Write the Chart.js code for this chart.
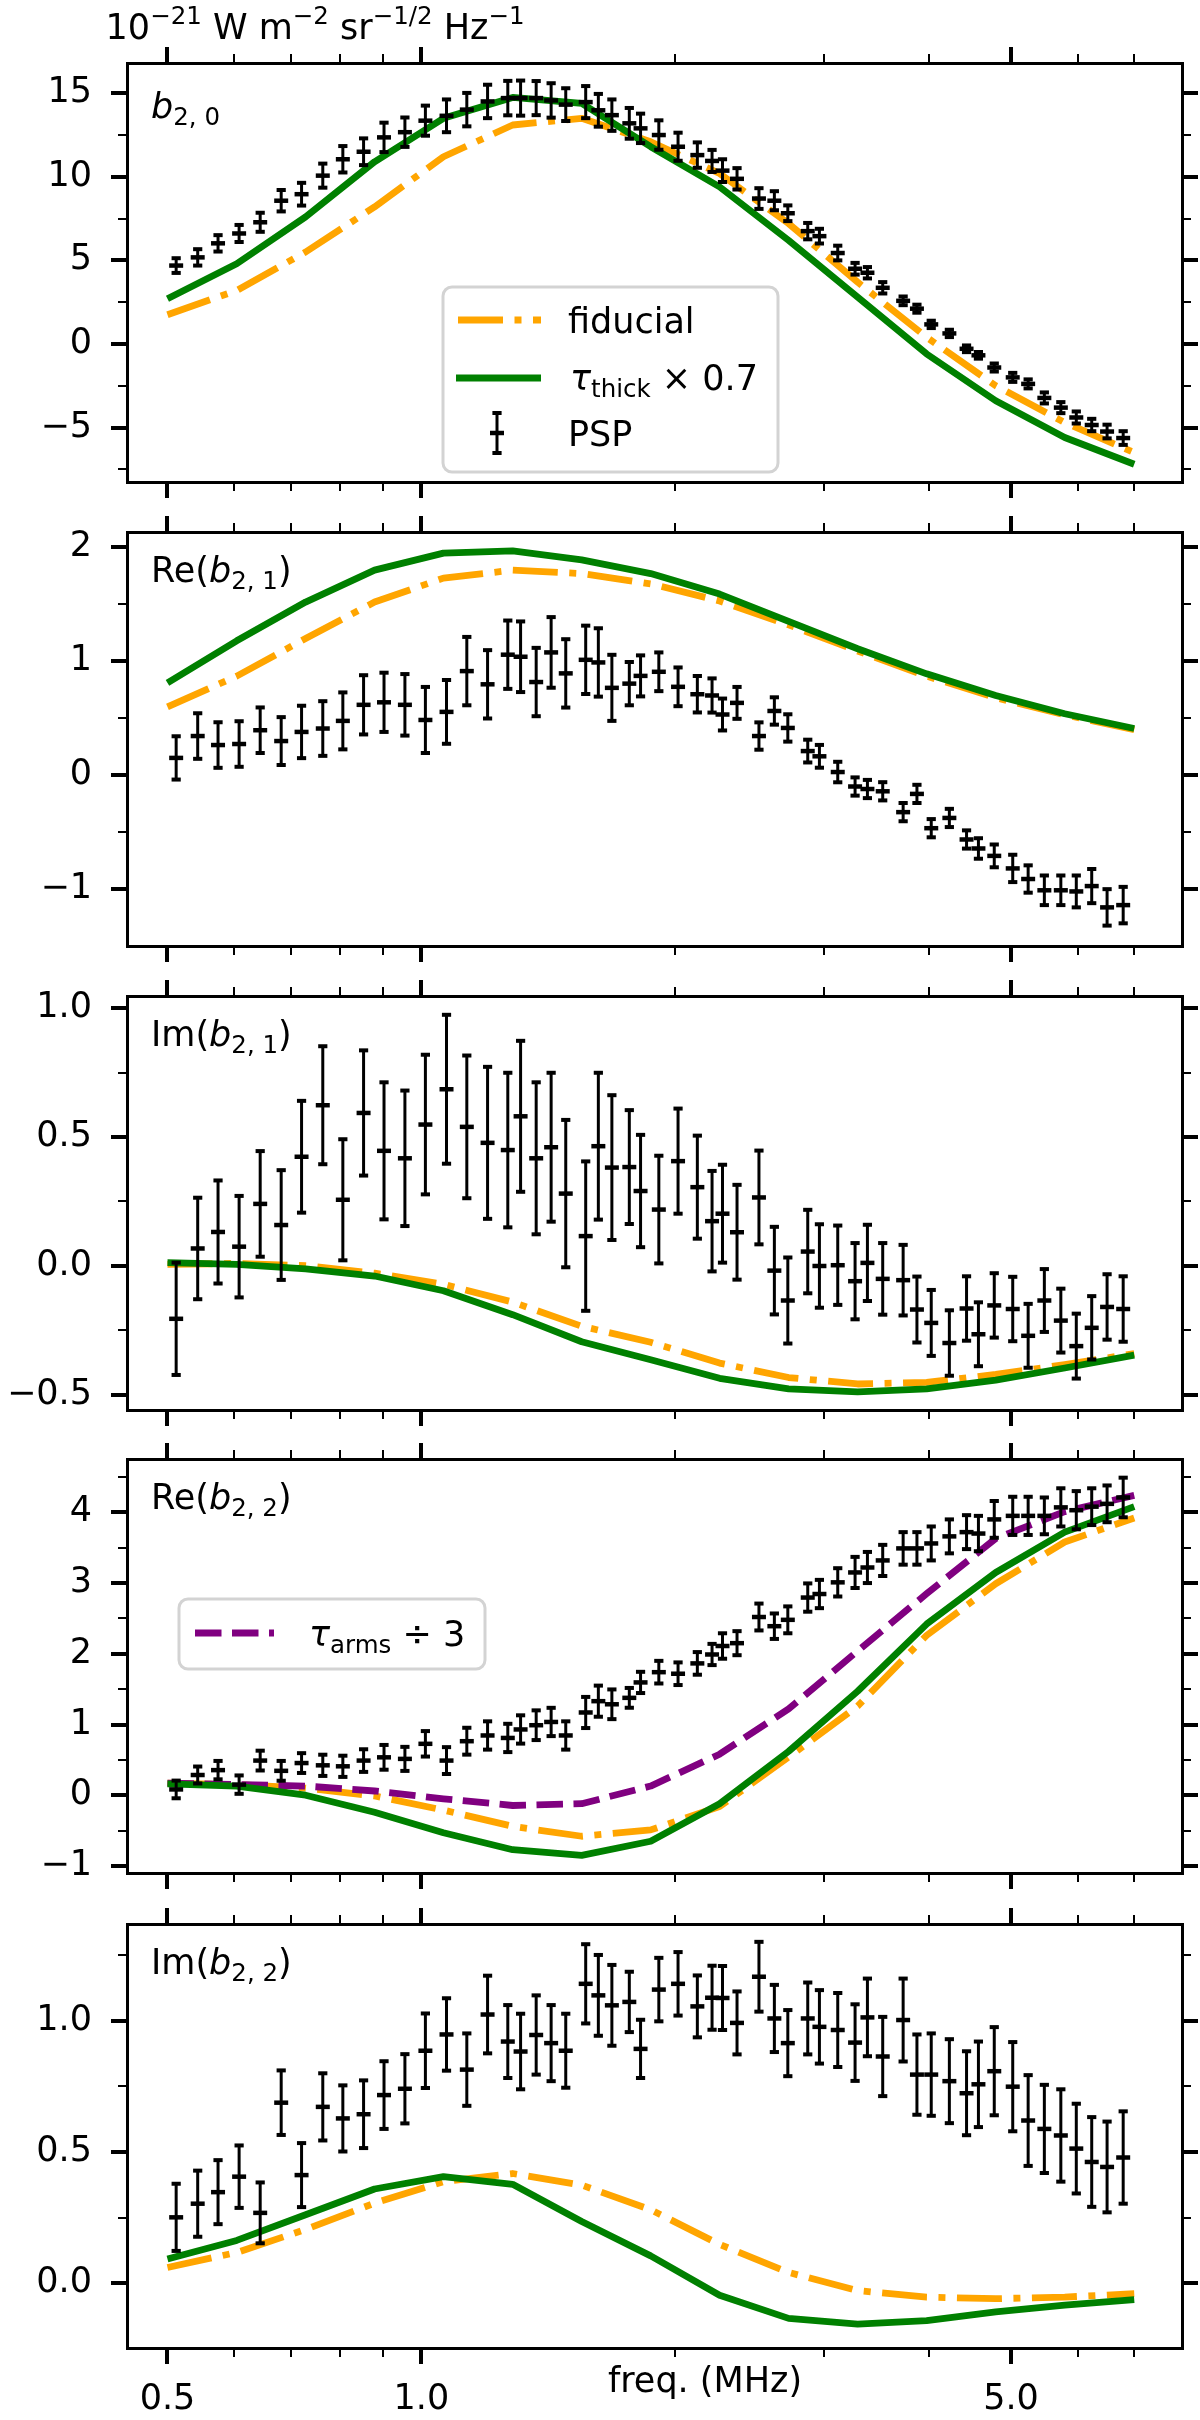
<!DOCTYPE html>
<html>
<head>
<meta charset="utf-8">
<title>b2m spectra vs PSP</title>
<script src="https://cdn.jsdelivr.net/npm/chart.js@4.4.1/dist/chart.umd.min.js"></script>
<style>
html, body { margin:0; padding:0; background:#ffffff; }
#wrap { position:relative; width:1200px; height:2420px; overflow:hidden; background:#ffffff; }
#wrap canvas { position:absolute; left:0; }
</style>
</head>
<body>
<div id="wrap"></div>
<script>
// ---------------- DATA ----------------
const xMajorTicks = [0.5, 1.0, 5.0];
const xTickLabels = ['0.5', '1.0', '5.0'];
const xMinorTicks = [0.6, 0.7, 0.8, 0.9, 2, 3, 4, 6, 7];

const freqPSP = [0.512, 0.543, 0.574, 0.608, 0.644, 0.682, 0.721, 0.764, 0.807, 0.854,
  0.903, 0.956, 1.011, 1.071, 1.132, 1.198, 1.266, 1.311, 1.368, 1.425,
  1.483, 1.566, 1.621, 1.682, 1.764, 1.819, 1.912, 2.015, 2.124, 2.211,
  2.275, 2.367, 2.513, 2.621, 2.719, 2.871, 2.964, 3.116, 3.267, 3.379,
  3.523, 3.725, 3.868, 4.022, 4.226, 4.429, 4.575, 4.777, 5.024, 5.240,
  5.477, 5.729, 5.976, 6.233, 6.500, 6.792];

const freqModel = [0.5, 0.604, 0.729, 0.880, 1.062, 1.283, 1.549, 1.870, 2.257, 2.725, 3.290, 3.972, 4.796, 5.790, 7.0];

// b_{2,0}
const pspB20 = [4.69, 5.18, 6.02, 6.61, 7.28, 8.57, 8.96, 10.07, 11.05, 11.5,
  12.36, 12.67, 13.36, 13.65, 14.02, 14.51, 14.71, 14.71, 14.71, 14.57,
  14.32, 14.47, 13.98, 13.69, 13.2, 12.9, 12.5, 11.8, 11.3, 10.95,
  10.37, 9.88, 8.7, 8.57, 7.82, 6.75, 6.45, 5.44, 4.5, 4.26,
  3.36, 2.58, 2.11, 1.17, 0.63, -0.29, -0.68, -1.41, -2.0, -2.39,
  -3.23, -3.81, -4.4, -4.85, -5.24, -5.63];
const errB20 = [0.44, 0.49, 0.49, 0.51, 0.57, 0.64, 0.68, 0.72, 0.79, 0.80,
  0.88, 0.88, 0.90, 0.98, 1.0, 1.0, 1.03, 1.05, 1.02, 1.03,
  0.98, 0.96, 0.98, 0.94, 0.92, 0.88, 0.88, 0.84, 0.76, 0.66,
  0.68, 0.64, 0.62, 0.57, 0.47, 0.49, 0.44, 0.44, 0.35, 0.34,
  0.34, 0.26, 0.24, 0.22, 0.22, 0.2, 0.2, 0.24, 0.27, 0.27,
  0.33, 0.33, 0.36, 0.37, 0.41, 0.41];
const fidB20 = [1.75, 3.2, 5.5, 8.2, 11.2, 13.1, 13.5, 12.1, 10.2, 7.2, 3.7, 0.4, -2.5, -4.7, -6.5];
const thickB20 = [2.7, 4.8, 7.6, 10.9, 13.5, 14.75, 14.4, 11.8, 9.4, 6.2, 2.8, -0.6, -3.4, -5.6, -7.2];

// Re(b_{2,1})
const pspReB21 = [0.152, 0.344, 0.265, 0.274, 0.395, 0.30, 0.38, 0.41, 0.477, 0.618,
  0.64, 0.618, 0.485, 0.556, 0.914, 0.798, 1.058, 1.04, 0.818, 1.078,
  0.894, 1.013, 0.99, 0.767, 0.804, 0.872, 0.908, 0.776, 0.711, 0.70,
  0.533, 0.635, 0.344, 0.564, 0.415, 0.212, 0.166, 0.028, -0.099, -0.121,
  -0.141, -0.324, -0.164, -0.465, -0.375, -0.564, -0.643, -0.708, -0.818, -0.911,
  -1.01, -1.01, -1.02, -0.973, -1.16, -1.14];
const errReB21 = [0.19, 0.2, 0.2, 0.2, 0.2, 0.21, 0.23, 0.24, 0.25, 0.26,
  0.26, 0.27, 0.29, 0.28, 0.3, 0.3, 0.3, 0.31, 0.3, 0.31,
  0.3, 0.3, 0.3, 0.29, 0.19, 0.18, 0.17, 0.17, 0.16, 0.15,
  0.14, 0.14, 0.12, 0.12, 0.12, 0.1, 0.1, 0.09, 0.08, 0.08,
  0.08, 0.08, 0.08, 0.08, 0.08, 0.08, 0.09, 0.1, 0.12, 0.12,
  0.13, 0.13, 0.14, 0.15, 0.16, 0.16];
const fidReB21 = [0.60, 0.87, 1.20, 1.52, 1.73, 1.80, 1.77, 1.68, 1.53, 1.32, 1.09, 0.87, 0.68, 0.53, 0.40];
const thickReB21 = [0.81, 1.18, 1.52, 1.80, 1.95, 1.97, 1.89, 1.77, 1.59, 1.35, 1.11, 0.89, 0.70, 0.54, 0.41];

// Im(b_{2,1})
const pspImB21 = [-0.206, 0.067, 0.131, 0.074, 0.24, 0.158, 0.423, 0.623, 0.256, 0.593,
  0.446, 0.417, 0.548, 0.685, 0.539, 0.477, 0.449, 0.58, 0.417, 0.46,
  0.28, 0.115, 0.464, 0.381, 0.383, 0.29, 0.218, 0.406, 0.305, 0.173,
  0.202, 0.13, 0.265, -0.019, -0.135, 0.055, -0.001, 0.002, -0.06, 0.011,
  -0.051, -0.056, -0.17, -0.222, -0.30, -0.166, -0.266, -0.154, -0.168, -0.272,
  -0.135, -0.213, -0.312, -0.241, -0.16, -0.168];
const errImB21 = [0.218, 0.197, 0.2, 0.197, 0.205, 0.213, 0.217, 0.229, 0.235, 0.243,
  0.266, 0.263, 0.271, 0.289, 0.277, 0.295, 0.3, 0.293, 0.295, 0.289,
  0.286, 0.29, 0.285, 0.281, 0.221, 0.218, 0.209, 0.204, 0.2, 0.195,
  0.19, 0.184, 0.182, 0.17, 0.167, 0.162, 0.162, 0.154, 0.148, 0.148,
  0.139, 0.137, 0.128, 0.128, 0.127, 0.125, 0.124, 0.125, 0.125, 0.124,
  0.122, 0.124, 0.126, 0.123, 0.127, 0.127];
const fidImB21 = [0.005, 0.009, 0.0, -0.029, -0.072, -0.141, -0.235, -0.297, -0.378, -0.434, -0.459, -0.453, -0.422, -0.384, -0.341];
const thickImB21 = [0.012, 0.005, -0.012, -0.04, -0.097, -0.19, -0.295, -0.365, -0.437, -0.478, -0.49, -0.478, -0.444, -0.397, -0.347];

// Re(b_{2,2})
const pspReB22 = [0.082, 0.286, 0.355, 0.15, 0.49, 0.345, 0.455, 0.423, 0.409, 0.49,
  0.536, 0.514, 0.727, 0.49, 0.764, 0.845, 0.81, 0.93, 0.99, 1.036,
  0.845, 1.17, 1.33, 1.286, 1.377, 1.595, 1.74, 1.718, 1.864, 1.99,
  2.11, 2.15, 2.52, 2.39, 2.48, 2.795, 2.845, 3.01, 3.15, 3.22,
  3.32, 3.49, 3.49, 3.56, 3.66, 3.72, 3.70, 3.9, 3.95, 3.95,
  3.95, 4.07, 4.03, 4.08, 4.12, 4.21];
const errReB22 = [0.125, 0.12, 0.13, 0.13, 0.14, 0.14, 0.14, 0.15, 0.15, 0.16,
  0.175, 0.17, 0.18, 0.19, 0.19, 0.2, 0.2, 0.2, 0.21, 0.2,
  0.2, 0.22, 0.22, 0.21, 0.14, 0.15, 0.16, 0.16, 0.16, 0.15,
  0.18, 0.17, 0.19, 0.18, 0.19, 0.2, 0.2, 0.2, 0.22, 0.22,
  0.22, 0.23, 0.23, 0.24, 0.24, 0.24, 0.25, 0.26, 0.27, 0.27,
  0.26, 0.27, 0.27, 0.26, 0.26, 0.28];
const fidReB22 = [0.17, 0.15, 0.10, -0.01, -0.21, -0.44, -0.58, -0.49, -0.16, 0.54, 1.26, 2.26, 2.99, 3.58, 3.92];
const thickReB22 = [0.16, 0.13, 0.0, -0.24, -0.53, -0.77, -0.85, -0.65, -0.12, 0.62, 1.47, 2.42, 3.15, 3.72, 4.08];
const armsReB22 = [0.17, 0.15, 0.13, 0.06, -0.05, -0.145, -0.12, 0.13, 0.58, 1.22, 2.04, 2.85, 3.63, 4.01, 4.24];

// Im(b_{2,2})
const pspImB22 = [0.251, 0.303, 0.347, 0.406, 0.268, 0.688, 0.412, 0.672, 0.628, 0.644,
  0.717, 0.741, 0.886, 0.948, 0.814, 1.024, 0.921, 0.883, 0.946, 0.915,
  0.886, 1.141, 1.097, 1.059, 1.072, 0.893, 1.119, 1.141, 1.055, 1.088,
  1.087, 0.992, 1.168, 1.009, 0.915, 1.009, 0.977, 0.965, 0.917, 1.013,
  0.864, 1.003, 0.795, 0.795, 0.770, 0.724, 0.758, 0.808, 0.749, 0.62,
  0.588, 0.563, 0.513, 0.462, 0.443, 0.479];
const errImB22 = [0.128, 0.126, 0.122, 0.119, 0.116, 0.123, 0.122, 0.128, 0.126, 0.129,
  0.129, 0.132, 0.142, 0.138, 0.138, 0.148, 0.139, 0.144, 0.151, 0.145,
  0.141, 0.151, 0.154, 0.154, 0.115, 0.111, 0.121, 0.121, 0.118, 0.122,
  0.122, 0.12, 0.133, 0.128, 0.126, 0.137, 0.14, 0.141, 0.146, 0.148,
  0.151, 0.158, 0.153, 0.157, 0.16, 0.16, 0.163, 0.168, 0.17, 0.173,
  0.168, 0.176, 0.171, 0.171, 0.173, 0.176];
const fidImB22 = [0.06, 0.117, 0.205, 0.305, 0.387, 0.418, 0.374, 0.28, 0.148, 0.041, -0.028, -0.053, -0.059, -0.053, -0.04];
const thickImB22 = [0.092, 0.163, 0.261, 0.359, 0.406, 0.377, 0.235, 0.104, -0.046, -0.134, -0.156, -0.143, -0.109, -0.084, -0.063];

// y-axis tick values and limits
const yMajorTicks = [[-5, 0, 5, 10, 15], [-1, 0, 1, 2], [-0.5, 0, 0.5, 1.0], [-1, 0, 1, 2, 3, 4], [0, 0.5, 1.0]];
const yMinorTicks = [[-7.5, -2.5, 2.5, 7.5, 12.5], [-0.5, 0.5, 1.5], [-0.25, 0.25, 0.75], [-0.5, 0.5, 1.5, 2.5, 3.5, 4.5], [0.25, 0.75, 1.25]];
const yLimits = [[-8.26, 16.81], [-1.499, 2.135], [-0.560, 1.047], [-1.0995, 4.754], [-0.247, 1.369]];
const xLimits = [0.4477, 7.975];

const seriesNames = ['fiducial', 'τthick × 0.7', 'PSP', 'τarms ÷ 3'];

// ---------------- LAYOUT / STYLE ----------------
const FONT = '"DejaVu Sans", "Liberation Sans", sans-serif';
const FS = 35;
const LW = 6.8;
const DASHDOT = [45, 11.5, 7, 11.5];
const DASHED = [26.5, 10.5];
const C_ORANGE = '#FFA500', C_GREEN = '#008000', C_PURPLE = '#800080';
const PANEL_H = 429;
const PLOT_LEFT = 127, PLOT_RIGHT = 1182;
const layout = [
  { top: 63, padTop: 63, padBottom: 30, dec: 0 },
  { top: 527, padTop: 35, padBottom: 30, dec: 0 },
  { top: 991, padTop: 35, padBottom: 30, dec: 1 },
  { top: 1454, padTop: 35, padBottom: 30, dec: 0 },
  { top: 1919, padTop: 35, padBottom: 72, dec: 1 }
];

const pspVals = [pspB20, pspReB21, pspImB21, pspReB22, pspImB22];
const pspErrs = [errB20, errReB21, errImB21, errReB22, errImB22];
const fidVals = [fidB20, fidReB21, fidImB21, fidReB22, fidImB22];
const thickVals = [thickB20, thickReB21, thickImB21, thickReB22, thickImB22];

const panelLabels = [
  [{ t: 'b', it: 1 }, { t: '2, 0', sub: 1 }],
  [{ t: 'Re(' }, { t: 'b', it: 1 }, { t: '2, 1', sub: 1 }, { t: ')' }],
  [{ t: 'Im(' }, { t: 'b', it: 1 }, { t: '2, 1', sub: 1 }, { t: ')' }],
  [{ t: 'Re(' }, { t: 'b', it: 1 }, { t: '2, 2', sub: 1 }, { t: ')' }],
  [{ t: 'Im(' }, { t: 'b', it: 1 }, { t: '2, 2', sub: 1 }, { t: ')' }]
];

Chart.defaults.font.family = FONT;
Chart.defaults.font.size = FS;
Chart.defaults.color = '#000';

// ---------------- HELPERS ----------------
function richText(ctx, x, y, parts, size) {
  let cx = x;
  ctx.textBaseline = 'alphabetic';
  ctx.textAlign = 'left';
  ctx.fillStyle = '#000';
  for (const p of parts) {
    let s = size, dy = 0;
    if (p.sub) { s = size * 0.7; dy = size * 0.21; }
    if (p.sup) { s = size * 0.7; dy = -size * 0.43; }
    ctx.font = (p.it ? 'italic ' : '') + s + 'px ' + FONT;
    ctx.fillText(p.t, cx, y + dy);
    cx += ctx.measureText(p.t).width;
  }
  return cx;
}

function strokeSeg(ctx, x1, y1, x2, y2, w) {
  ctx.lineWidth = w;
  ctx.beginPath(); ctx.moveTo(x1, y1); ctx.lineTo(x2, y2); ctx.stroke();
}

function errGlyph(ctx, px, yTop, yBot, yMid, marker) {
  ctx.strokeStyle = '#000';
  ctx.lineCap = 'butt';
  strokeSeg(ctx, px, yTop, px, yBot, 3);
  strokeSeg(ctx, px - 4.6, yTop, px + 4.6, yTop, 4);
  strokeSeg(ctx, px - 4.6, yBot, px + 4.6, yBot, 4);
  if (marker) strokeSeg(ctx, px - 7, yMid, px + 7, yMid, 4.5);
}

function roundBox(ctx, x, y, w, h, r) {
  ctx.beginPath();
  ctx.moveTo(x + r, y);
  ctx.lineTo(x + w - r, y); ctx.arcTo(x + w, y, x + w, y + r, r);
  ctx.lineTo(x + w, y + h - r); ctx.arcTo(x + w, y + h, x + w - r, y + h, r);
  ctx.lineTo(x + r, y + h); ctx.arcTo(x, y + h, x, y + h - r, r);
  ctx.lineTo(x, y + r); ctx.arcTo(x, y, x + r, y, r);
  ctx.closePath();
}

function handleLine(ctx, x1, x2, y, color, dash) {
  ctx.save();
  ctx.strokeStyle = color; ctx.setLineDash(dash || []); ctx.lineCap = 'butt';
  strokeSeg(ctx, x1, y, x2, y, LW);
  ctx.restore();
}

function fmtY(dec) {
  return v => (v < 0 ? '\u2212' : '') + Math.abs(v).toFixed(dec);
}

// size: fixed thickness of the axis box (0 = does not take space)
function mkAxis(type, position, min, max, tickVals, tickLen, tickWid, showBorder, showLabels, fmt, pad, size, weight) {
  const horizontal = (position === 'top' || position === 'bottom');
  return {
    type: type, position: position, min: min, max: max, weight: weight || 0,
    afterBuildTicks: s => { s.ticks = tickVals.map(v => ({ value: v })); },
    afterFit: s => { if (horizontal) { s.height = size || 0; } else { s.width = size || 0; } },
    grid: { display: true, drawOnChartArea: false, drawTicks: true, tickLength: tickLen,
            tickWidth: tickWid, lineWidth: tickWid, tickColor: '#000', color: '#000' },
    border: { display: showBorder, color: '#000', width: 3, z: 1 },
    ticks: { display: showLabels, autoSkip: false, maxRotation: 0, minRotation: 0,
             padding: pad || 0, color: '#000', font: { family: FONT, size: FS },
             callback: fmt || (() => '') }
  };
}

// ---------------- BUILD PANELS ----------------
const wrap = document.getElementById('wrap');

function buildPanel(i) {
  const L = layout[i];
  const canvasTop = L.top - L.padTop;
  const canvasH = L.padTop + PANEL_H + L.padBottom;
  const cv = document.createElement('canvas');
  cv.width = 1200; cv.height = canvasH;
  cv.style.width = '1200px'; cv.style.height = canvasH + 'px'; cv.style.top = canvasTop + 'px';
  wrap.appendChild(cv);

  const modelPts = arr => freqModel.map((f, k) => ({ x: f, y: arr[k] }));
  const lineDS = (label, arr, color, dash, order) => ({
    type: 'line', label: label, data: modelPts(arr), borderColor: color, backgroundColor: color,
    borderWidth: LW, borderDash: dash, borderCapStyle: 'butt', borderJoinStyle: 'round',
    pointRadius: 0, pointHoverRadius: 0, tension: 0, fill: false, order: order,
    xAxisID: 'x', yAxisID: 'y'
  });

  const datasets = [
    { type: 'scatter', label: seriesNames[2], data: freqPSP.map((f, k) => ({ x: f, y: pspVals[i][k] })),
      showLine: false, pointStyle: 'line', pointRadius: 7, pointHoverRadius: 7,
      pointBorderWidth: 4.5, borderColor: '#000', backgroundColor: '#000', order: 0,
      xAxisID: 'x', yAxisID: 'y' },
    lineDS(seriesNames[1], thickVals[i], C_GREEN, [], 1),
    lineDS(seriesNames[0], fidVals[i], C_ORANGE, DASHDOT, 3)
  ];
  if (i === 3) datasets.push(lineDS(seriesNames[3], armsReB22, C_PURPLE, DASHED, 2));

  const isLast = (i === 4);
  const [ymin, ymax] = yLimits[i];
  const xLabelFmt = v => { const k = xMajorTicks.indexOf(v); return k >= 0 ? xTickLabels[k] : ''; };

  const scales = {
    x:   mkAxis('logarithmic', 'bottom', xLimits[0], xLimits[1], xMajorTicks, 16, 4, true, isLast, xLabelFmt, 15, L.padBottom, 1),
    xm:  mkAxis('logarithmic', 'bottom', xLimits[0], xLimits[1], xMinorTicks, 9, 2, false, false, null, 0, 0, 0),
    xt:  mkAxis('logarithmic', 'top', xLimits[0], xLimits[1], xMajorTicks, 16, 4, true, false, null, 0, L.padTop, 1),
    xtm: mkAxis('logarithmic', 'top', xLimits[0], xLimits[1], xMinorTicks, 9, 2, false, false, null, 0, 0, 0),
    y:   mkAxis('linear', 'left', ymin, ymax, yMajorTicks[i], 16, 4, true, true, fmtY(L.dec), 19, PLOT_LEFT, 1),
    ym:  mkAxis('linear', 'left', ymin, ymax, yMinorTicks[i], 9, 2, false, false, null, 0, 0, 0),
    yr:  mkAxis('linear', 'right', ymin, ymax, yMajorTicks[i], 16, 4, true, false, null, 0, 1200 - PLOT_RIGHT, 1),
    yrm: mkAxis('linear', 'right', ymin, ymax, yMinorTicks[i], 9, 2, false, false, null, 0, 0, 0)
  };

  const errPlugin = {
    id: 'errbars' + i,
    afterDatasetsDraw(chart) {
      const ctx = chart.ctx, xs = chart.scales.x, ys = chart.scales.y;
      ctx.save();
      freqPSP.forEach((f, k) => {
        const v = pspVals[i][k], e = pspErrs[i][k];
        errGlyph(ctx, xs.getPixelForValue(f), ys.getPixelForValue(v + e), ys.getPixelForValue(v - e), ys.getPixelForValue(v), false);
      });
      ctx.restore();
    }
  };

  const decoPlugin = {
    id: 'deco' + i,
    afterDraw(chart) {
      const ctx = chart.ctx;
      const oy = canvasTop;
      ctx.save();
      richText(ctx, 151, L.top + 55 - oy, panelLabels[i], FS);
      if (i === 0) {
        richText(ctx, 105.6, 39 - oy, [
          { t: '10' }, { t: '\u221221', sup: 1 }, { t: ' W m' }, { t: '\u22122', sup: 1 },
          { t: ' sr' }, { t: '\u22121/2', sup: 1 }, { t: ' Hz' }, { t: '\u22121', sup: 1 }
        ], FS);
        roundBox(ctx, 443, 287 - oy, 335, 185, 9);
        ctx.fillStyle = 'rgba(255,255,255,0.8)'; ctx.fill();
        ctx.strokeStyle = '#d3d3d3'; ctx.lineWidth = 3; ctx.stroke();
        handleLine(ctx, 458, 541, 320 - oy, C_ORANGE, DASHDOT);
        richText(ctx, 568, 333 - oy, [{ t: seriesNames[0] }], FS);
        handleLine(ctx, 456, 541, 378 - oy, C_GREEN, []);
        richText(ctx, 570, 390 - oy, [{ t: 'τ', it: 1 }, { t: 'thick', sub: 1 }, { t: ' × 0.7' }], FS);
        errGlyph(ctx, 497, 413 - oy, 453 - oy, 433 - oy, true);
        richText(ctx, 568, 446 - oy, [{ t: seriesNames[2] }], FS);
      }
      if (i === 3) {
        roundBox(ctx, 179, 1599 - oy, 306, 70, 9);
        ctx.fillStyle = 'rgba(255,255,255,0.8)'; ctx.fill();
        ctx.strokeStyle = '#d3d3d3'; ctx.lineWidth = 3; ctx.stroke();
        handleLine(ctx, 195, 274, 1633 - oy, C_PURPLE, DASHED);
        richText(ctx, 309, 1646 - oy, [{ t: 'τ', it: 1 }, { t: 'arms', sub: 1 }, { t: ' ÷ 3' }], FS);
      }
      if (isLast) {
        ctx.font = FS + 'px ' + FONT;
        ctx.fillStyle = '#000';
        ctx.textAlign = 'center';
        ctx.textBaseline = 'alphabetic';
        ctx.fillText('freq. (MHz)', 705, 2392 - oy);
      }
      ctx.restore();
    }
  };

  return new Chart(cv, {
    type: 'scatter',
    data: { datasets: datasets },
    options: {
      responsive: false, maintainAspectRatio: false, animation: false, events: [],
      devicePixelRatio: 1,
      layout: { padding: 0, autoPadding: false },
      plugins: { legend: { display: false }, tooltip: { enabled: false }, title: { display: false } },
      scales: scales
    },
    plugins: [errPlugin, decoPlugin]
  });
}

for (let i = 0; i < 5; i++) buildPanel(i);
</script>
</body>
</html>
